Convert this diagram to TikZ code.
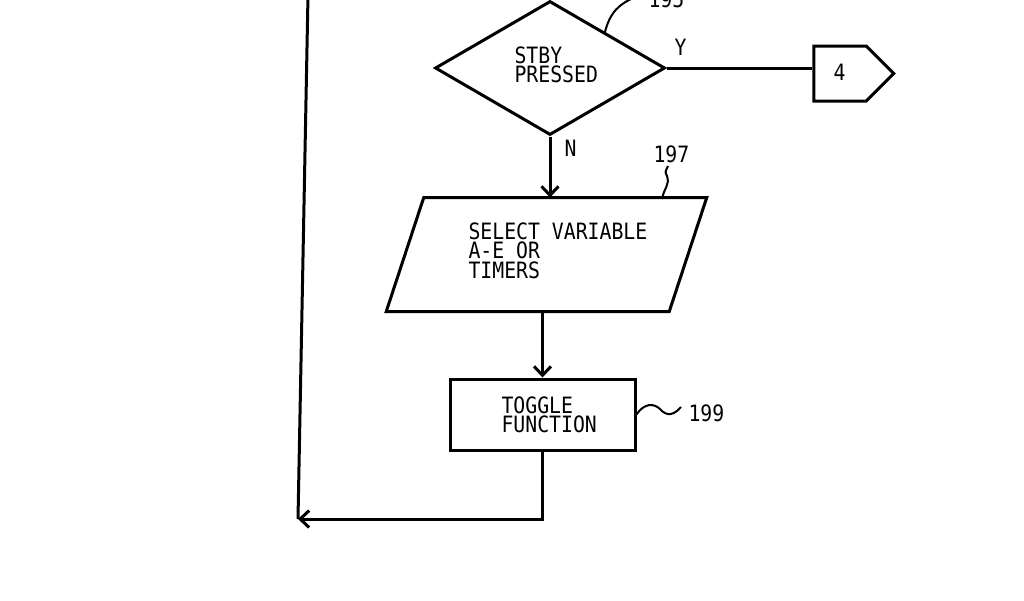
\documentclass[tikz,border=0pt]{standalone}
\usepackage{fontspec}
\newfontfamily\lett[FakeStretch=0.88]{DejaVu Sans Mono}
\usetikzlibrary{shapes.geometric,shapes.symbols,arrows.meta}
\begin{document}
\begin{tikzpicture}[x=1pt,y=-1pt,line width=3pt,
  box/.style={draw,inner sep=0pt},
  txt/.style={font=\lett\fontsize{22.5}{19.5}\selectfont,align=left,inner sep=0pt,anchor=north west},
  arr/.style={-{Straight Barb[length=9pt,width=17pt]}},
  lead/.style={line width=2pt}]
\useasboundingbox (0,0) rectangle (1024,600);
\fill[white] (0,0) rectangle (1024,600);
% shapes
\node[box,diamond,minimum width=230pt,minimum height=134pt,aspect=1.716] (d) at (550,68) {};
\node[inner sep=0pt,minimum width=280pt,minimum height=111pt] (p) at (546.5,254.5) {};
\draw[line join=miter] ([xshift=18.75pt]p.north west) -- ([xshift=18.75pt]p.north east)
  -- ([xshift=-18.75pt]p.south east) -- ([xshift=-18.75pt]p.south west) -- cycle;
\node[box,rectangle,minimum width=185pt,minimum height=71pt] (r) at (542.5,414.5) {};
\node[box,signal,signal to=east,signal pointer angle=90,minimum width=80pt,minimum height=55pt] (s) at (840,73.5) {};
% texts
\node[txt] (td) at (513,45) {STBY\\PRESSED};
\node[txt] (tp) at (467,221) {SELECT VARIABLE\\A-E OR\\TIMERS};
\node[txt] (tr) at (500,395) {TOGGLE\\FUNCTION};
\node[txt] (ts) at (832,63) {4};
\node[txt] (ly) at (673,38) {Y};
\node[txt] (ln) at (563,139) {N};
\node[txt] (l195) at (647,-11) {195};
\node[txt] (l197) at (652,144) {197};
\node[txt] (l199) at (687,403) {199};
% connectors
\draw (d.east) -- (d.east -| s.west);
\draw[arr] (d.south) -- (d.south |- p.north);
\draw[arr] (r.north |- p.south) -- (r.north);
\coordinate (corner) at (298,519);
\coordinate (top) at (308,-5);
\draw[arr] (r.south) |- (corner);
\draw (corner) -- (top);
% leaders
\draw[lead] (605,32) .. controls (610,12) and (620,3) .. (636,-3);
\draw[lead] (662,199) .. controls (664,188) and (670,185) .. (667,176) .. controls (665,172) .. (668,166);
\draw[lead] (r.east) .. controls (644,403) and (654,403) .. (660,409) .. controls (667,417) and (674,415) .. (681,407);
\end{tikzpicture}
\end{document}
